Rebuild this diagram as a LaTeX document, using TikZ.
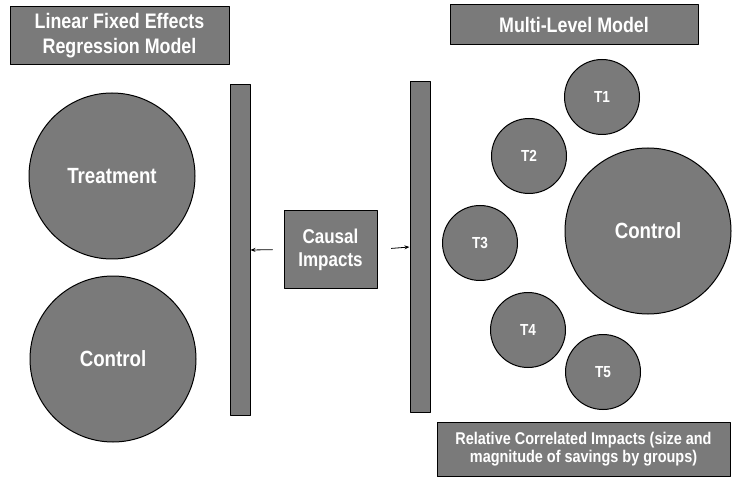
\documentclass[tikz,border=0pt]{standalone}
\usepackage{fontspec}
\setmainfont{Liberation Sans}
\newfontfamily\narrowfont[FakeStretch=0.85]{Liberation Sans}
\usetikzlibrary{arrows.meta}

\tikzset{
	panel/.style={draw=black,line width=1pt,fill=black!52,text=white,align=center,inner sep=0pt,font=\narrowfont\bfseries},
	headbox/.style={panel,rectangle,font=\narrowfont\bfseries\fontsize{21}{25}\selectfont},
	bigdot/.style={panel,circle,minimum size=166pt,font=\narrowfont\bfseries\fontsize{22}{24}\selectfont},
	smalldot/.style={panel,circle,minimum size=75pt,font=\narrowfont\bfseries\fontsize{16}{18}\selectfont},
	bar/.style={panel,rectangle,minimum width=20pt,minimum height=330pt},
	link/.style={draw=black,line width=0.8pt,-{Stealth[length=5pt,width=4pt]}}
}

\begin{document}
\begin{tikzpicture}[x=1pt,y=-1pt,line cap=round,line join=round]
	\useasboundingbox (0,0) rectangle (741,478);
	
	% linear model
	\node[headbox,minimum width=219pt,minimum height=58pt] (linhead) at (119.5,36) {Linear Fixed Effects\\Regression Model};
	\node[bigdot] (treat) at (112,176) {Treatment};
	\node[bigdot] (ctrlA) at (113,359) {Control};
	\node[bar] (lbar) at (240,250) {};
	
	% middle
	\node[headbox,font=\narrowfont\bfseries\fontsize{20}{23}\selectfont,minimum width=93pt,minimum height=77pt] (impacts) at (330.5,249.5) {Causal\\Impacts};
	\node[bar] (rbar) at (420,247) {};
	
	\draw[link,shorten <=11pt] (impacts.west) -- (lbar.east);
	\draw[link,shorten <=14pt] (impacts.east) -- (rbar.west);
	
	% multi-level model
	\node[headbox,minimum width=248pt,minimum height=40pt] (mlhead) at (574,25) {Multi-Level Model};
	\node[smalldot] (t1) at (602,97) {T1};
	\node[smalldot] (t2) at (529,156) {T2};
	\node[smalldot] (t3) at (480,243) {T3};
	\node[smalldot] (t4) at (528,330) {T4};
	\node[smalldot] (t5) at (603,372) {T5};
	\node[bigdot] (ctrlB) at (648,231) {Control};
	
	\node[headbox,font=\narrowfont\bfseries\fontsize{17}{18}\selectfont,minimum width=293pt,minimum height=54pt] (caption) at (583.5,449.5) {Relative Correlated Impacts (size and\\magnitude of savings by groups)};
\end{tikzpicture}
\end{document}
